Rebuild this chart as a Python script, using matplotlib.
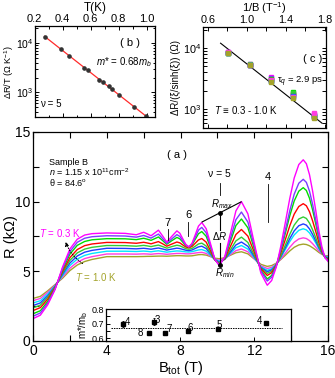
import matplotlib
matplotlib.use("Agg")
import matplotlib.pyplot as plt
from matplotlib.patches import FancyArrowPatch
from matplotlib.ticker import MultipleLocator, NullFormatter, FixedLocator

plt.rcParams.update({
    "font.family": ["Liberation Sans", "DejaVu Sans"],
    "mathtext.fontset": "custom",
    "mathtext.rm": "Liberation Sans",
    "mathtext.it": "Liberation Sans:italic",
    "mathtext.bf": "Liberation Sans:bold",
    "axes.linewidth": 0.9,
    "xtick.direction": "in", "ytick.direction": "in",
})

# ---- panel (a): R(B_tot) for T = 0.3 ... 1.0 K (top to bottom in the big peak)
B_TOT = [0, 0.4, 0.8, 1.2, 1.6, 2.0, 2.4, 2.8, 3.2, 4.0,
         5.0, 5.6, 6.0, 6.2, 6.4, 6.6, 6.8, 7.03, 7.25, 7.52,
         7.8, 7.96, 8.12, 8.29, 8.45, 8.62, 8.8, 8.97, 9.15, 9.39,
         9.63, 9.86, 10.1, 10.4, 10.7, 11.0, 11.3, 11.65, 12.0, 12.35,
         12.7, 12.94, 13.19, 13.43, 13.68, 13.92, 14.16, 14.41, 14.65, 14.82,
         14.99, 15.16, 15.33, 15.49, 15.66, 15.83, 16.0]
r_magenta = [1.6, 1.85, 2.6, 3.7, 5.3, 6.6, 7.3, 7.6, 7.7, 7.75,
             7.72, 7.62, 7.8, 7.68, 7.55, 7.75, 7.95, 7.53, 7.1, 7.5,
             7.9, 7.73, 7.33, 6.92, 6.75, 7.01, 7.63, 8.24, 8.5, 8.05,
             6.95, 5.85, 5.4, 6.07, 7.7, 9.33, 10.0, 9.12, 7.0, 4.88,
             4.0, 4.34, 5.31, 6.78, 8.5, 10.22, 11.69, 12.66, 13.0, 12.72,
             11.93, 10.74, 9.35, 7.96, 6.77, 5.98, 5.7]
r_violet = [1.77, 2.01, 2.72, 3.74, 5.2, 6.41, 7.08, 7.37, 7.48, 7.55,
            7.53, 7.45, 7.57, 7.48, 7.38, 7.53, 7.67, 7.34, 7.0, 7.32,
            7.63, 7.5, 7.19, 6.88, 6.75, 6.95, 7.45, 7.95, 8.15, 7.76,
            6.8, 5.84, 5.45, 6.0, 7.35, 8.7, 9.25, 8.53, 6.78, 5.02,
            4.3, 4.58, 5.37, 6.56, 7.95, 9.34, 10.53, 11.32, 11.6, 11.38,
            10.75, 9.79, 8.68, 7.56, 6.6, 5.97, 5.75]
r_green = [1.95, 2.17, 2.84, 3.78, 5.11, 6.23, 6.86, 7.14, 7.26, 7.34,
           7.33, 7.27, 7.37, 7.3, 7.22, 7.34, 7.46, 7.2, 6.94, 7.19,
           7.43, 7.33, 7.09, 6.84, 6.74, 6.9, 7.3, 7.69, 7.85, 7.51,
           6.68, 5.84, 5.5, 5.97, 7.13, 8.28, 8.75, 8.12, 6.6, 5.08,
           4.45, 4.7, 5.41, 6.47, 7.73, 8.98, 10.04, 10.75, 11.0, 10.8,
           10.24, 9.39, 8.4, 7.41, 6.56, 6.0, 5.8]
r_red = [2.18, 2.39, 3.0, 3.84, 4.98, 5.98, 6.56, 6.84, 6.96, 7.07,
         7.06, 7.01, 7.08, 7.03, 6.97, 7.05, 7.13, 6.97, 6.8, 6.95,
         7.1, 7.04, 6.89, 6.74, 6.68, 6.78, 7.02, 7.25, 7.35, 7.09,
         6.45, 5.81, 5.55, 5.91, 6.78, 7.64, 8.0, 7.52, 6.35, 5.18,
         4.7, 4.9, 5.45, 6.29, 7.28, 8.26, 9.1, 9.65, 9.85, 9.7,
         9.27, 8.61, 7.85, 7.09, 6.43, 6.0, 5.85]
r_lgreen = [2.37, 2.57, 3.13, 3.89, 4.88, 5.78, 6.32, 6.59, 6.72, 6.85,
            6.84, 6.8, 6.86, 6.82, 6.77, 6.83, 6.88, 6.77, 6.66, 6.77,
            6.87, 6.83, 6.73, 6.62, 6.58, 6.64, 6.8, 6.96, 7.02, 6.81,
            6.31, 5.81, 5.6, 5.87, 6.53, 7.18, 7.45, 7.07, 6.15, 5.23,
            4.85, 5.0, 5.44, 6.1, 6.88, 7.65, 8.31, 8.75, 8.9, 8.79,
            8.46, 7.97, 7.4, 6.83, 6.34, 6.01, 5.9]
r_blue = [2.54, 2.73, 3.25, 3.93, 4.78, 5.59, 6.1, 6.37, 6.5, 6.65,
          6.64, 6.61, 6.65, 6.62, 6.58, 6.63, 6.67, 6.6, 6.52, 6.59,
          6.66, 6.63, 6.57, 6.51, 6.48, 6.53, 6.64, 6.75, 6.8, 6.63,
          6.23, 5.83, 5.66, 5.87, 6.38, 6.89, 7.1, 6.79, 6.04, 5.28,
          4.97, 5.1, 5.47, 6.03, 6.69, 7.34, 7.9, 8.27, 8.4, 8.31,
          8.04, 7.64, 7.18, 6.71, 6.31, 6.04, 5.95]
r_cyan = [2.72, 2.89, 3.37, 3.97, 4.68, 5.41, 5.88, 6.14, 6.28, 6.44,
          6.44, 6.42, 6.45, 6.43, 6.4, 6.44, 6.47, 6.42, 6.37, 6.42,
          6.46, 6.45, 6.42, 6.39, 6.38, 6.41, 6.47, 6.53, 6.56, 6.44,
          6.14, 5.84, 5.72, 5.88, 6.29, 6.69, 6.85, 6.59, 5.96, 5.33,
          5.07, 5.18, 5.51, 5.99, 6.56, 7.13, 7.61, 7.94, 8.05, 7.97,
          7.75, 7.42, 7.03, 6.63, 6.3, 6.08, 6.0]
r_pink = [2.89, 3.05, 3.49, 4.01, 4.59, 5.22, 5.65, 5.91, 6.05, 6.24,
          6.24, 6.23, 6.25, 6.24, 6.22, 6.25, 6.27, 6.25, 6.22, 6.25,
          6.28, 6.28, 6.27, 6.25, 6.25, 6.27, 6.31, 6.34, 6.36, 6.28,
          6.08, 5.88, 5.8, 5.92, 6.2, 6.48, 6.6, 6.4, 5.9, 5.4,
          5.2, 5.28, 5.52, 5.88, 6.3, 6.72, 7.08, 7.32, 7.4, 7.35,
          7.2, 6.98, 6.73, 6.47, 6.25, 6.1, 6.05]
r_olive = [3.05, 3.2, 3.6, 4.05, 4.5, 5.05, 5.45, 5.7, 5.85, 6.05,
           6.05, 6.05, 6.06, 6.07, 6.07, 6.08, 6.09, 6.09, 6.08, 6.1,
           6.12, 6.12, 6.11, 6.1, 6.1, 6.11, 6.15, 6.19, 6.2, 6.16,
           6.05, 5.94, 5.9, 5.97, 6.15, 6.33, 6.4, 6.25, 5.88, 5.5,
           5.35, 5.41, 5.58, 5.84, 6.15, 6.46, 6.72, 6.89, 6.95, 6.92,
           6.83, 6.69, 6.53, 6.36, 6.22, 6.13, 6.1]
CURVES = [r_magenta, r_violet, r_green, r_red, r_lgreen, r_blue, r_cyan, r_pink, r_olive]
COLORS = ["#ff00ff", "#7a3cff", "#00dd00", "#ff0000", "#33cc33",
          "#1f3cff", "#00e5ff", "#ff3ce0", "#a3a32a"]

# filling-factor markers in (a)
NU_LAB = ["7", "6", "4"]
NU_LAB_B = [7.3, 8.42, 12.75]
NU_LAB_R = [8.45, 9.05, 11.8]
NU_TICK_TOP = [8.05, 8.55, 11.25]
NU_TICK_BOT = [7.25, 7.5, 8.55]
# R_max / R_min construction at nu = 5
RMAX_B = [9.17, 11.28]
RMAX_R = [8.54, 9.98]
DR_B = 10.14
DR_TOP, DR_BOT = 9.2, 5.45

# ---- inset of (a): m*/m_b vs B
B_NU = [4.9, 6.31, 6.58, 7.21, 8.44, 10.07, 12.67]
MSTAR = [0.697, 0.636, 0.714, 0.64, 0.649, 0.665, 0.703]
MSTAR_ERR = [0.02, 0.008, 0.022, 0.008, 0.008, 0.006, 0.008]
NU_OF_PT = ["4", "8", "3", "7", "6", "5", "4"]
M_AVG = 0.668
M_AVG_B = [4.3, 13.5]

# ---- panel (b): dR/T vs T at nu = 5
T_K = [0.275, 0.39, 0.445, 0.55, 0.58, 0.66, 0.69, 0.73, 0.755, 0.805, 0.91, 0.995]
DR_OVER_T = [13200, 7600, 5500, 3160, 2880, 1820, 1590, 1320, 1200, 870, 500, 331]
FIT_T = [0.27, 1.0]
FIT_DRT = [13600, 325]

# ---- panel (c): dR/(xi/sinh xi) vs 1/B, one list per temperature (colours as in (a))
INV_B = [0.81, 1.03, 1.25, 1.47, 1.69]
C_VALS = [
    [8600, 5400, 3300, 1750, 850],
    [8500, 5300, 3200, 1800, 800],
    [8300, 5300, 3100, 1900, 780],
    [8400, 5200, 3000, 1700, 760],
    [8200, 5400, 2900, 1850, 740],
    [8300, 5300, 2900, 1650, 750],
    [8400, 5200, 2850, 1600, 800],
    [8500, 5300, 3000, 1600, 880],
    [8300, 5250, 2800, 1500, 720],
]
FIT_INVB = [0.73, 1.77]
FIT_C = [12000, 590]

fig = plt.figure(figsize=(3.35, 3.78), dpi=100)

# ================= main panel (a)
ax = fig.add_axes([0.0985, 0.098, 0.881, 0.553])
for vals, col in list(zip(CURVES, COLORS))[::-1]:
    ax.plot(B_TOT, vals, color=col, lw=1.0)
ax.set_xlim(0, 16)
ax.set_ylim(0, 15)
ax.xaxis.set_major_locator(MultipleLocator(4))
ax.xaxis.set_minor_locator(MultipleLocator(2))
ax.yaxis.set_major_locator(MultipleLocator(5))
ax.yaxis.set_minor_locator(MultipleLocator(2.5))
ax.tick_params(which="both", top=True, right=True, direction="in", width=0.8, labelsize=10, pad=2)
ax.tick_params(which="major", length=4)
ax.tick_params(which="minor", length=4)
ax.set_xlabel("B$_{\\mathrm{tot}}$ (T)", fontsize=10.5, labelpad=1)
ax.set_ylabel("R (kΩ)", fontsize=10.5)
ax.yaxis.set_label_coords(-0.05, 0.5)

ax.text(0.87, 12.8, "Sample B", fontsize=6.5, va="center")
ax.text(0.87, 12.1, "$n$ = 1.15 x 10$^{11}$cm$^{-2}$", fontsize=6.5, va="center")
ax.text(0.87, 11.35, "θ = 84.6$^{\\mathrm{o}}$", fontsize=6.5, va="center")
ax.text(7.8, 13.35, "( a )", fontsize=8, ha="center", va="center")

for lab, b, r, t, bt in zip(NU_LAB, NU_LAB_B, NU_LAB_R, NU_TICK_TOP, NU_TICK_BOT):
    ax.text(b, r, lab, fontsize=8, ha="center", va="center")
    ax.plot([b, b], [bt, t], color="k", lw=0.6)

ax.text(10.1, 12.0, "ν = 5", fontsize=7.5, ha="center", va="center")
ax.plot([DR_B, DR_B], [10.5, 11.3], color="k", lw=0.6)
ax.plot(RMAX_B, RMAX_R, color="k", lw=0.8)
ax.plot([DR_B, DR_B], [DR_TOP, 7.95], color="k", lw=0.8)
ax.plot([DR_B, DR_B], [7.05, DR_BOT], color="k", lw=0.8)
ax.plot([DR_B, DR_B], [DR_TOP, DR_BOT], "o", color="k", ms=2.5)
ax.text(10.25, 9.85, "$R_{max}$", fontsize=7, ha="center", va="center")
ax.text(DR_B, 7.5, "Δ$R$", fontsize=7, ha="center", va="center")
ax.text(10.4, 4.85, "$R_{min}$", fontsize=7, ha="center", va="center")

ax.text(0.3, 7.72, "$T$ = 0.3 K", fontsize=7, color="#ff00ff", va="center")
ax.text(2.28, 4.62, "$T$ = 1.0 K", fontsize=7, color="#a3a32a", va="center")
ax.add_patch(FancyArrowPatch((2.82, 5.45), (1.72, 7.3), connectionstyle="arc3,rad=-0.2",
                             arrowstyle="-|>", mutation_scale=6, lw=0.7, ls=":", color="k",
                             zorder=5))

# ================= inset of (a)
axm = fig.add_axes([0.316, 0.098, 0.552, 0.0845])
axm.errorbar(B_NU, MSTAR, yerr=MSTAR_ERR, fmt="s", ms=2.2, color="k",
             elinewidth=0.6, capsize=1.0, capthick=0.6)
axm.plot(M_AVG_B, [M_AVG, M_AVG], ls=(0, (1.5, 1.0)), color="k", lw=0.7)
lab_dx = [0.25, -0.45, 0.2, 0.2, 0.15, 0.05, -0.35]
lab_dy = [0.012, 0.0, 0.012, 0.022, 0.025, 0.025, 0.015]
for b, m, lab, dx, dy in zip(B_NU, MSTAR, NU_OF_PT, lab_dx, lab_dy):
    axm.text(b + dx, m + dy, lab, fontsize=7, ha="center", va="center")
axm.set_xlim(4, 14)
axm.set_ylim(0.583, 0.8)
axm.set_xticks([8, 12])
axm.set_xticklabels([])
axm.set_yticks([0.6, 0.7, 0.8])
axm.yaxis.set_minor_locator(MultipleLocator(0.05))
axm.tick_params(which="both", direction="in", length=3, width=0.7, labelsize=6.5, pad=1.5)
axm.set_ylabel("m*/m$_{\\mathrm{b}}$", fontsize=7, labelpad=1)

# ================= panel (b)
axb = fig.add_axes([0.1036, 0.690, 0.359, 0.241])
axb.set_yscale("log")
axb.plot(FIT_T, FIT_DRT, color="#ff2a2a", lw=0.9)
axb.plot(T_K, DR_OVER_T, "o", ms=2.3, color="#333333")
axb.set_xlim(0.2, 1.06)
axb.set_ylim(316, 21900)
axb.xaxis.set_major_locator(MultipleLocator(0.2))
axb.xaxis.set_minor_locator(MultipleLocator(0.1))
axb.yaxis.set_minor_formatter(NullFormatter())
axb.tick_params(which="both", direction="in", top=True, right=True, labeltop=True,
                labelbottom=False, width=0.7, labelsize=8, pad=1.5)
axb.tick_params(axis="y", labelsize=7.5, pad=1)
axb.tick_params(which="major", length=3)
axb.tick_params(which="minor", length=1.8)
axb.xaxis.set_label_position("top")
axb.set_xlabel("T(K)", fontsize=8.5, labelpad=2)
axb.set_ylabel("ΔR/T (Ω K$^{-1}$)", fontsize=6.6)
axb.yaxis.set_label_coords(-0.155, 0.5)
axb.text(0.79, 0.81, "( b )", transform=axb.transAxes, fontsize=8, ha="center", va="center")
axb.text(0.97, 0.6, "$m$* = 0.68$m_b$", transform=axb.transAxes, fontsize=7, ha="right", va="center")
axb.text(0.04, 0.14, "ν = 5", transform=axb.transAxes, fontsize=7, va="center")

# ================= panel (c)
axc = fig.add_axes([0.606, 0.661, 0.367, 0.267])
axc.set_yscale("log")
axc.plot(FIT_INVB, FIT_C, color="k", lw=0.8)
for vals, col in zip(C_VALS, COLORS):
    axc.plot(INV_B, vals, "s", ms=2.2, color=col)
axc.set_xlim(0.55, 1.81)
axc.set_ylim(490, 21900)
axc.xaxis.set_major_locator(FixedLocator([0.6, 1.0, 1.4, 1.8]))
axc.xaxis.set_minor_locator(FixedLocator([0.8, 1.2, 1.6]))
axc.yaxis.set_minor_formatter(NullFormatter())
axc.tick_params(which="both", direction="in", top=True, right=True, labeltop=True,
                labelbottom=False, width=0.7, labelsize=7.8, pad=1.5)
axc.tick_params(which="major", length=3)
axc.tick_params(which="minor", length=3)
axc.xaxis.set_label_position("top")
axc.set_xlabel("1/B (T$^{-1}$)", fontsize=8, labelpad=2)
axc.set_ylabel("ΔR/(ξ/sinh(ξ)) (Ω)", fontsize=7, labelpad=1)
axc.text(0.89, 0.69, "( c )", transform=axc.transAxes, fontsize=8, ha="center", va="center")
axc.text(0.6, 0.455, "τ$_q$ = 2.9 ps", transform=axc.transAxes, fontsize=6.8, ha="left", va="center")
axc.text(0.09, 0.18, "$T$ ≡ 0.3 - 1.0 K", transform=axc.transAxes, fontsize=7, va="center")

fig.savefig("out.png", dpi=100)
